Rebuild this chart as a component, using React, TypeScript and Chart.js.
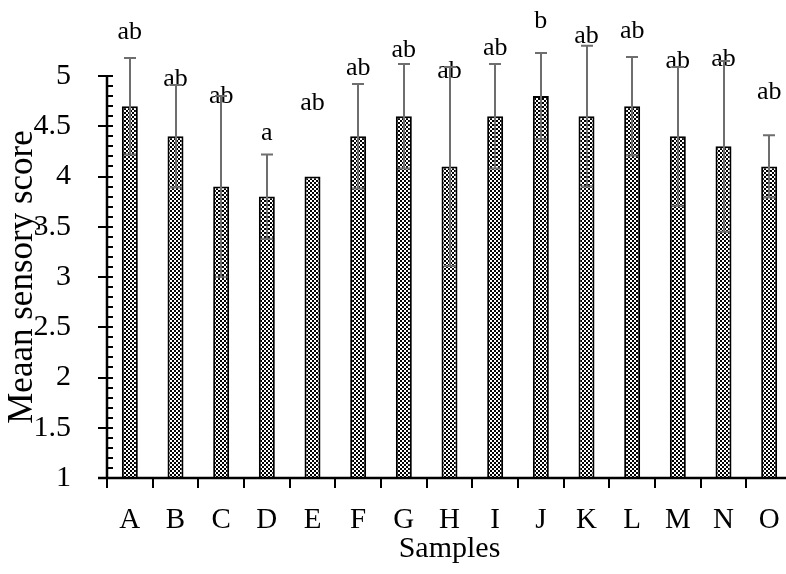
import React, { useEffect, useRef } from "react";
import { Chart, registerables } from "chart.js";

Chart.register(...registerables);

const categories = ["A", "B", "C", "D", "E", "F", "G", "H", "I", "J", "K", "L", "M", "N", "O"];
const means = [4.7, 4.4, 3.9, 3.8, 4.0, 4.4, 4.6, 4.1, 4.6, 4.8, 4.6, 4.7, 4.4, 4.3, 4.1];
const errors = [0.48, 0.51, 0.9, 0.42, 0, 0.52, 0.52, 0.99, 0.52, 0.43, 0.7, 0.49, 0.69, 0.85, 0.31];
const letters = ["ab", "ab", "ab", "a", "ab", "ab", "ab", "ab", "ab", "b", "ab", "ab", "ab", "ab", "ab"];
const letterLevels = [5.37, 4.9, 4.73, 4.36, 4.66, 5.01, 5.19, 4.98, 5.21, 5.48, 5.33, 5.38, 5.08, 5.1, 4.77];
const yMin = 1;
const yMax = 5;
const yStep = 0.5;
const yMinorStep = 0.1;

const FONT = "'Liberation Serif', 'Times New Roman', serif";

function makePattern(): CanvasPattern | string {
  const c = document.createElement("canvas");
  c.width = 4;
  c.height = 4;
  const g = c.getContext("2d");
  if (!g) return "#888";
  g.fillStyle = "#ffffff";
  g.fillRect(0, 0, 4, 4);
  g.fillStyle = "#000000";
  g.fillRect(0, 0, 2, 2);
  g.fillRect(2, 2, 2, 2);
  const p = g.createPattern(c, "repeat");
  return p || "#888";
}

const overlayPlugin = {
  id: "overlay",
  afterDatasetsDraw(chart: any) {
    const ctx: CanvasRenderingContext2D = chart.ctx;
    const xs = chart.scales.x;
    const ys = chart.scales.y;
    const area = chart.chartArea;
    const meta = chart.getDatasetMeta(0);
    ctx.save();

    // letters
    ctx.fillStyle = "#000";
    ctx.font = `26px ${FONT}`;
    ctx.textAlign = "center";
    ctx.textBaseline = "alphabetic";
    meta.data.forEach((bar: any, i: number) => {
      ctx.fillText(letters[i], bar.x, ys.getPixelForValue(letterLevels[i]));
    });

    // error bars
    ctx.strokeStyle = "#6e6e6e";
    ctx.lineWidth = 2;
    meta.data.forEach((bar: any, i: number) => {
      const e = errors[i];
      if (!e) return;
      const cx = Math.round(bar.x);
      const top = ys.getPixelForValue(means[i] + e);
      const bot = ys.getPixelForValue(means[i] - e);
      ctx.beginPath();
      ctx.moveTo(cx, top);
      ctx.lineTo(cx, bot);
      ctx.moveTo(cx - 6, top);
      ctx.lineTo(cx + 6, top);
      ctx.moveTo(cx - 6, bot);
      ctx.lineTo(cx + 6, bot);
      ctx.stroke();
    });

    // axes
    ctx.strokeStyle = "#000";
    ctx.lineWidth = 2.5;
    const left = area.left;
    const bottom = area.bottom;
    ctx.beginPath();
    ctx.moveTo(left, area.top);
    ctx.lineTo(left, bottom);
    ctx.moveTo(left - 9, bottom);
    ctx.lineTo(area.right, bottom);
    ctx.stroke();

    ctx.lineWidth = 2;
    ctx.beginPath();
    const nMinor = Math.round((yMax - yMin) / yMinorStep);
    for (let k = 0; k <= nMinor; k++) {
      const v = yMin + k * yMinorStep;
      const py = Math.round(ys.getPixelForValue(v));
      const isMajor = Math.abs(v / yStep - Math.round(v / yStep)) < 1e-6;
      ctx.moveTo(isMajor ? left - 9 : left, py);
      ctx.lineTo(left + 6, py);
    }
    const n = categories.length;
    const w = xs.width / n;
    for (let k = 0; k <= n; k++) {
      const px = Math.round(xs.left + k * w);
      ctx.moveTo(px, bottom);
      ctx.lineTo(px, bottom + 10);
    }
    ctx.stroke();
    ctx.restore();
  },
};

export default function App() {
  const ref = useRef<HTMLCanvasElement | null>(null);

  useEffect(() => {
    if (!ref.current) return;
    const pattern = makePattern();
    const chart = new Chart(ref.current, {
      type: "bar",
      data: {
        labels: categories,
        datasets: [
          {
            data: means,
            base: 1,
            backgroundColor: pattern as any,
            borderColor: "#000",
            borderWidth: 2,
            barPercentage: 0.35,
            categoryPercentage: 1,
          } as any,
        ],
      },
      options: {
        responsive: false,
        devicePixelRatio: 1,
        animation: false,
        layout: { padding: { left: 0, top: 76, right: 8, bottom: 0 } },
        plugins: { legend: { display: false }, tooltip: { enabled: false } },
        scales: {
          x: {
            type: "category",
            offset: true,
            grid: { display: false },
            border: { display: false },
            ticks: {
              font: { family: FONT, size: 29 },
              color: "#000",
              padding: 17,
              maxRotation: 0,
              autoSkip: false,
            },
            title: {
              display: true,
              text: "Samples",
              font: { family: FONT, size: 30 },
              color: "#000",
              padding: { top: 0, bottom: 7 },
            },
            afterFit: (s: any) => {
              s.height = 96;
            },
          },
          y: {
            min: yMin,
            max: yMax,
            grid: { display: false },
            border: { display: false },
            ticks: {
              stepSize: yStep,
              font: { family: FONT, size: 30 },
              color: "#000",
              padding: 28,
              callback: (v: any) => String(Number(v)),
            },
            title: {
              display: true,
              text: "Meaan sensory score",
              font: { family: FONT, size: 35 },
              color: "#000",
              padding: { top: 2, bottom: 0 },
            },
            afterFit: (s: any) => {
              s.width = 107;
            },
          },
        },
      },
      plugins: [overlayPlugin],
    });
    return () => chart.destroy();
  }, []);

  return (
    <div
      style={{
        position: "fixed",
        left: 0,
        top: 0,
        width: 786,
        height: 574,
        overflow: "hidden",
        background: "#fff",
      }}
    >
      <canvas ref={ref} width={800} height={574} style={{ display: "block", width: 800, height: 574 }} />
    </div>
  );
}
